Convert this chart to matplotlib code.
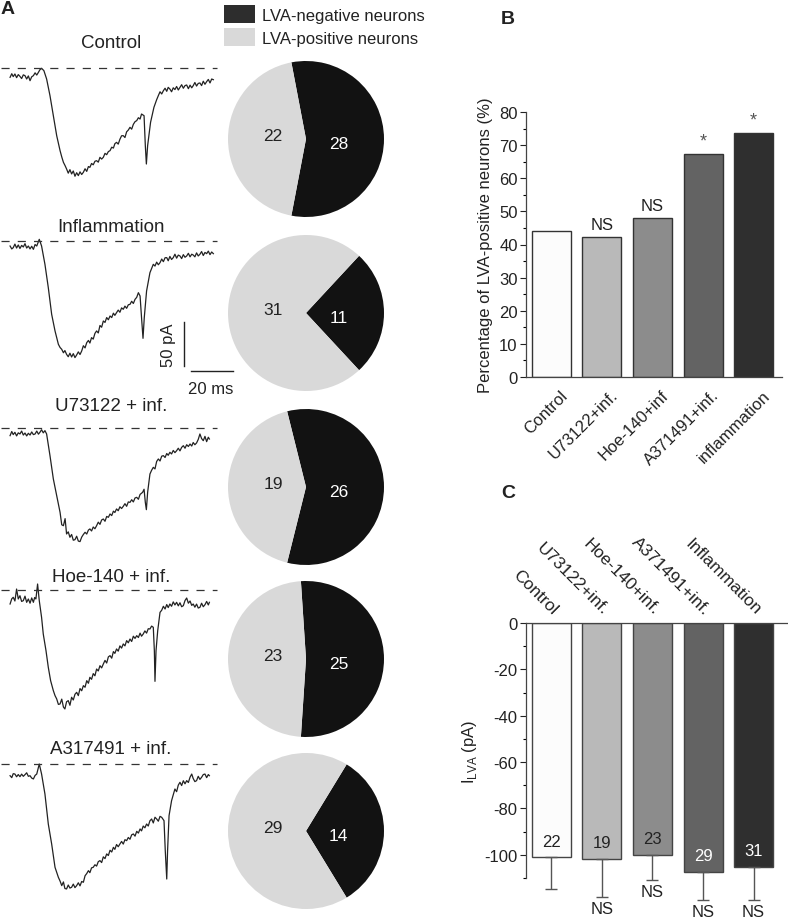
import matplotlib.pyplot as plt
import numpy as np
from matplotlib.patches import Patch
from matplotlib.ticker import MultipleLocator

plt.rcParams['font.family'] = ['Liberation Sans', 'DejaVu Sans']
plt.rcParams['axes.unicode_minus'] = False

# ---- panel A: counts of LVA-positive / LVA-negative neurons
pie_groups = ['Control', 'Inflammation', 'U73122 + inf.', 'Hoe-140 + inf.', 'A317491 + inf.']
lva_pos = [22, 31, 19, 23, 29]
lva_neg = [28, 11, 26, 25, 14]

# example traces as (time ms, current pA)
ctrl_trace = [(4.8, -10.6), (5.6, -6.5), (6.3, -9.8), (7.1, -6.8), (7.9, -11.0), (8.7, -7.5), (9.5, -9.5),
              (10.3, -12.0), (11.1, -7.8), (11.9, -8.7), (12.7, -12.5), (13.5, -9.0), (14.3, -14.4),
              (15.1, -10.0), (15.9, -8.7), (16.7, -5.5), (17.5, -8.0), (18.3, -4.9), (19.0, -2.0),
              (19.8, -0.4), (20.9, -3.0), (22.2, -12.5), (23.8, -31.4), (25.4, -54.2), (27.0, -76.9),
              (28.6, -93.9), (29.4, -101.0), (30.2, -107.2), (31.0, -111.0), (31.7, -114.7), (32.5, -119.5),
              (33.3, -115.5), (34.1, -120.4), (34.9, -117.0), (35.7, -123.0), (36.5, -119.0), (37.3, -122.3),
              (38.1, -118.0), (38.9, -121.0), (39.7, -118.5), (40.5, -114.5), (41.3, -117.5), (42.1, -112.0),
              (42.8, -112.9), (43.6, -108.5), (44.4, -110.0), (45.2, -106.0), (46.0, -105.3), (46.8, -107.0),
              (47.6, -101.5), (48.4, -103.5), (49.2, -101.5), (50.0, -97.0), (50.8, -98.5), (51.6, -95.0),
              (52.4, -93.9), (53.2, -90.0), (54.0, -91.0), (54.7, -86.0), (55.5, -84.5), (56.3, -86.5),
              (57.1, -81.0), (57.9, -77.0), (58.7, -76.9), (59.5, -79.0), (60.3, -72.5), (61.1, -70.5),
              (61.9, -67.4), (62.7, -69.5), (63.5, -64.0), (64.3, -61.0), (65.1, -59.8), (65.9, -56.5),
              (66.7, -58.0), (67.4, -52.3), (68.6, -54.2), (69.2, -88.2), (69.7, -109.1), (70.3, -88.2),
              (71.7, -61.7), (73.3, -44.7), (74.6, -36.0), (75.4, -31.4), (76.2, -27.0), (77.0, -29.5),
              (77.8, -25.8), (78.6, -23.0), (79.4, -26.5), (80.1, -22.0), (80.9, -23.9), (81.7, -27.0),
              (82.5, -22.5), (83.3, -24.5), (84.1, -21.0), (84.9, -25.0), (85.7, -22.0), (86.5, -19.0),
              (87.3, -23.0), (88.1, -20.0), (88.9, -19.3), (89.7, -23.5), (90.5, -19.5), (91.3, -22.5),
              (92.0, -20.1), (92.8, -16.5), (93.6, -20.5), (94.4, -17.5), (95.2, -17.0), (96.0, -20.0),
              (96.8, -15.0), (97.6, -18.5), (98.4, -15.5), (99.2, -13.0), (100.0, -17.0), (100.8, -12.5),
              (101.6, -13.3)]

infl_trace = [(4.8, -5.7), (5.6, -9.0), (6.3, -7.6), (7.1, -3.5), (7.9, -8.0), (8.7, -4.5), (9.5, -8.5),
              (10.3, -5.0), (11.1, -6.8), (11.9, -3.0), (12.7, -8.0), (13.5, -5.7), (14.3, -9.0), (15.1, -6.0),
              (15.9, -9.5), (16.7, -4.0), (17.5, -5.7), (18.7, 1.9), (19.8, -5.7), (21.4, -26.5), (23.0, -53.0),
              (24.6, -83.3), (26.2, -102.2), (27.8, -117.4), (28.6, -121.0), (29.4, -123.1), (30.2, -127.0),
              (30.9, -124.5), (31.7, -128.8), (32.5, -131.5), (33.3, -127.5), (34.1, -131.8), (34.9, -128.0),
              (35.7, -132.5), (36.5, -129.5), (37.3, -126.0), (38.1, -129.0), (38.9, -125.0), (39.7, -119.0),
              (40.5, -121.5), (41.3, -115.5), (42.1, -113.0), (42.8, -116.0), (43.6, -109.8), (44.4, -111.5),
              (45.2, -105.0), (46.0, -102.2), (46.8, -104.5), (47.6, -96.0), (48.4, -98.0), (49.2, -90.9),
              (50.0, -92.5), (50.8, -87.0), (51.6, -89.5), (52.4, -85.2), (53.2, -87.0), (54.0, -82.0),
              (54.7, -84.5), (55.5, -81.4), (56.3, -78.5), (57.1, -81.0), (57.9, -76.0), (58.7, -77.6),
              (59.5, -74.0), (60.3, -76.5), (61.1, -72.5), (61.9, -72.0), (62.7, -68.5), (63.5, -71.0),
              (64.3, -66.3), (65.1, -64.0), (65.9, -58.7), (66.7, -62.5), (67.4, -87.1), (68.1, -110.6),
              (68.7, -87.1), (69.8, -56.8), (71.4, -36.0), (73.0, -26.5), (73.8, -28.5), (74.6, -24.0),
              (75.4, -27.0), (76.2, -24.6), (77.0, -20.5), (77.8, -23.5), (78.6, -19.0), (79.4, -18.9),
              (80.1, -22.5), (80.9, -17.5), (81.7, -21.0), (82.5, -18.9), (83.3, -15.0), (84.1, -19.5),
              (84.9, -16.0), (85.7, -17.0), (86.5, -20.0), (87.3, -15.5), (88.1, -18.5), (88.9, -17.0),
              (89.7, -14.0), (90.5, -18.0), (91.3, -15.0), (92.0, -15.9), (92.8, -18.0), (93.6, -13.5),
              (94.4, -17.0), (95.2, -15.1), (96.0, -12.0), (96.8, -16.5), (97.6, -13.0), (98.4, -14.4),
              (99.2, -11.5), (100.0, -15.5), (100.8, -12.5), (101.6, -14.4)]

u73_trace = [(4.8, -8.7), (5.6, -4.0), (6.3, -7.5), (7.1, -4.9), (7.9, -9.0), (8.7, -5.5), (9.5, -6.8),
             (10.3, -3.5), (11.1, -8.0), (11.9, -5.7), (12.7, -9.0), (13.5, -6.0), (14.3, -8.0), (15.1, -4.5),
             (15.9, -7.5), (16.7, -6.8), (17.5, -3.5), (18.3, -7.0), (19.0, -4.9), (19.8, -2.0), (20.6, -5.5),
             (21.4, -3.0), (22.2, -6.8), (23.8, -31.4), (25.4, -57.9), (27.0, -76.9), (28.6, -95.8),
             (29.4, -110.0), (30.2, -111.0), (31.0, -103.0), (31.7, -120.4), (32.5, -118.0), (33.3, -124.2),
             (34.1, -121.0), (34.9, -127.5), (35.7, -126.9), (36.5, -123.0), (37.3, -128.5), (38.1, -129.1),
             (38.9, -124.0), (39.7, -121.0), (40.5, -118.5), (41.3, -120.5), (42.1, -116.0), (42.8, -114.7),
             (43.6, -117.0), (44.4, -112.5), (45.2, -114.5), (46.0, -111.0), (46.8, -107.0), (47.6, -109.5),
             (48.4, -104.5), (49.2, -103.4), (50.0, -106.0), (50.8, -100.5), (51.6, -101.5), (52.4, -97.7),
             (53.2, -99.5), (54.0, -94.5), (54.7, -96.0), (55.5, -92.0), (56.3, -94.0), (57.1, -89.5),
             (57.9, -91.5), (58.7, -89.0), (59.5, -86.0), (60.3, -89.0), (61.1, -84.0), (61.9, -84.5),
             (62.7, -81.5), (63.5, -84.0), (64.3, -79.5), (65.1, -78.8), (65.9, -81.0), (66.7, -75.5),
             (67.9, -73.1), (68.6, -69.6), (69.2, -84.5), (69.7, -92.8), (70.3, -73.1), (71.4, -52.3),
             (72.2, -48.0), (73.0, -44.7), (73.8, -46.5), (74.6, -38.0), (75.4, -35.2), (76.2, -37.5),
             (77.0, -32.0), (77.8, -31.4), (78.6, -33.5), (79.4, -29.0), (80.1, -31.0), (80.9, -27.6),
             (81.7, -29.5), (82.5, -25.5), (83.3, -28.0), (84.1, -25.8), (84.9, -23.0), (85.7, -26.0),
             (86.5, -22.0), (87.3, -20.1), (88.1, -23.0), (88.9, -19.0), (89.7, -21.0), (90.5, -18.2),
             (91.3, -20.5), (92.0, -16.5), (92.8, -19.0), (93.6, -17.0), (94.4, -13.0), (95.2, -6.8),
             (96.0, -12.0), (96.8, -14.4), (97.6, -9.5), (98.4, -15.5), (99.2, -10.5), (99.7, -12.5)]

hoe_trace = [(4.8, -15.9), (5.6, -10.0), (6.3, -8.3), (7.1, -12.5), (7.9, 1.1), (8.7, -10.2), (9.5, -6.5),
             (10.3, -13.0), (11.1, -12.1), (11.9, -7.0), (12.7, -14.0), (13.5, -10.2), (14.3, -15.0),
             (15.1, -9.0), (15.9, -14.0), (16.5, -8.5), (17.1, -10.2), (17.9, 6.8), (18.7, -12.1),
             (19.8, -31.1), (20.6, -50.0), (21.9, -68.9), (23.0, -87.9), (24.1, -103.0), (25.4, -114.4),
             (26.2, -120.0), (27.0, -123.8), (27.8, -130.0), (28.6, -129.5), (29.4, -124.0), (30.2, -133.0),
             (30.9, -135.2), (31.7, -127.0), (32.5, -125.7), (33.3, -131.0), (34.1, -121.9), (34.9, -125.0),
             (35.7, -118.5), (36.5, -116.3), (37.3, -120.0), (38.1, -112.0), (38.9, -114.5), (39.7, -108.7),
             (40.5, -110.5), (41.3, -103.0), (42.1, -106.0), (42.8, -99.2), (43.6, -101.5), (44.4, -95.0),
             (45.2, -97.5), (46.0, -89.8), (46.8, -92.0), (47.6, -86.0), (48.4, -88.5), (49.2, -84.1),
             (50.0, -80.0), (50.8, -83.0), (51.6, -76.0), (52.4, -74.6), (53.2, -77.5), (54.0, -70.0),
             (54.7, -72.0), (55.5, -67.0), (56.3, -69.5), (57.1, -63.5), (57.9, -66.0), (58.7, -61.3),
             (59.5, -63.5), (60.3, -57.5), (61.1, -60.0), (61.9, -55.7), (62.7, -58.5), (63.5, -52.5),
             (64.3, -55.0), (65.1, -51.9), (65.9, -54.0), (66.7, -49.0), (67.4, -52.5), (68.2, -50.0),
             (69.0, -46.5), (69.8, -49.0), (70.6, -44.0), (71.4, -44.3), (72.2, -41.0), (73.0, -42.4),
             (73.5, -68.9), (73.8, -103.8), (74.3, -68.9), (75.1, -46.2), (76.2, -25.4), (77.0, -23.0),
             (77.8, -18.5), (78.6, -21.6), (79.4, -16.5), (80.1, -20.0), (80.9, -15.9), (81.7, -18.5),
             (82.5, -13.5), (83.3, -17.0), (84.1, -14.0), (84.9, -18.0), (85.7, -14.5), (86.5, -19.0),
             (87.3, -17.8), (88.1, -12.0), (88.9, -9.1), (89.7, -15.0), (90.5, -12.5), (91.3, -17.5),
             (92.0, -15.9), (92.8, -19.5), (93.6, -16.0), (94.4, -20.5), (95.2, -19.7), (96.0, -15.0),
             (96.8, -19.0), (97.6, -16.7), (98.4, -13.0), (99.2, -17.0), (99.7, -14.0)]

a317_trace = [(4.8, -13.3), (5.6, -15.5), (6.3, -11.0), (7.1, -11.4), (7.9, -14.5), (8.7, -12.0), (9.5, -14.4),
              (10.3, -11.5), (11.1, -14.0), (11.9, -12.1), (12.7, -10.0), (13.5, -14.0), (14.3, -13.3),
              (15.1, -16.0), (15.9, -17.0), (16.7, -13.0), (17.5, -11.4), (18.7, 0.0), (19.8, -11.4),
              (21.4, -34.1), (23.0, -68.2), (24.6, -90.9), (26.2, -117.4), (27.8, -128.8), (28.6, -133.0),
              (29.4, -138.2), (30.2, -134.0), (30.9, -141.5), (31.7, -142.0), (32.5, -137.5), (33.3, -141.0),
              (34.1, -140.1), (34.9, -136.5), (35.7, -140.5), (36.5, -138.2), (37.3, -135.0), (38.1, -138.5),
              (38.9, -133.5), (39.7, -134.4), (40.5, -127.0), (41.3, -124.5), (42.1, -121.2), (42.8, -123.5),
              (43.6, -118.0), (44.4, -117.4), (45.2, -114.5), (46.0, -116.0), (46.8, -111.0), (47.6, -109.8),
              (48.4, -112.0), (49.2, -105.5), (50.0, -107.5), (50.8, -102.2), (51.6, -104.0), (52.4, -98.0),
              (53.2, -100.0), (54.0, -94.7), (54.7, -97.0), (55.5, -91.5), (56.3, -94.0), (57.1, -90.9),
              (57.9, -88.0), (58.7, -91.0), (59.5, -86.0), (60.3, -87.1), (61.1, -83.5), (61.9, -85.5),
              (62.7, -80.5), (63.5, -79.5), (64.3, -82.0), (65.1, -76.5), (65.9, -78.5), (66.7, -73.8),
              (67.4, -76.0), (68.2, -70.5), (69.0, -72.5), (69.8, -68.2), (70.6, -70.5), (71.4, -64.5),
              (72.2, -62.5), (73.0, -67.0), (73.8, -60.5), (74.6, -62.5), (75.4, -65.0), (76.2, -59.5),
              (77.0, -60.6), (78.1, -64.4), (78.7, -98.5), (79.4, -130.7), (79.8, -98.5), (80.5, -58.7),
              (81.7, -41.7), (82.5, -35.0), (83.3, -28.4), (84.1, -31.5), (84.9, -24.0), (85.7, -20.8),
              (86.5, -24.5), (87.3, -19.0), (88.1, -22.5), (88.9, -18.9), (89.7, -21.0), (90.5, -15.0),
              (91.3, -11.4), (92.0, -16.5), (92.8, -20.0), (93.6, -18.9), (94.4, -14.0), (95.2, -17.5),
              (96.0, -15.1), (96.8, -12.0), (97.6, -11.4), (98.4, -15.5), (99.2, -12.0), (99.7, -13.3)]

traces = [ctrl_trace, infl_trace, u73_trace, hoe_trace, a317_trace]

# ---- panel B
b_groups = ['Control', 'U73122+inf.', 'Hoe-140+inf', 'A371491+inf.', 'inflammation']
b_percent = [44.0, 42.2, 47.9, 67.4, 73.8]
b_marks = ['', 'NS', 'NS', '*', '*']

# ---- panel C
c_groups = ['Control', 'U73122+inf.', 'Hoe-140+inf.', 'A371491+inf.', 'Inflammation']
c_current = [-101.1, -101.6, -100.1, -107.4, -105.1]
c_sem = [13.8, 16.6, 10.9, 12.2, 14.4]
c_n = [22, 19, 23, 29, 31]
c_marks = ['', 'NS', 'NS', 'NS', 'NS']

bar_colors = ['#fcfcfc', '#b9b9b9', '#8c8c8c', '#636363', '#2f2f2f']
n_colors = ['#222222', '#222222', '#222222', 'white', 'white']
txt = '#222222'

W, H = 788, 920
fig = plt.figure(figsize=(W / 100, H / 100), dpi=100)

MS_PX = 20 / 42   # ms per pixel
PA_PX = 50 / 44   # pA per pixel

trace_base = [69, 242, 429, 591, 765]
title_y = [44, 228, 407, 578, 750]
pie_y = [140, 314, 488, 660, 832]

for k in range(5):
    b = trace_base[k]
    ax = fig.add_axes([0, 1 - (b + 135) / H, 220 / W, 150 / H])
    ax.set_xlim(0, 220 * MS_PX)
    ax.set_ylim(-135 * PA_PX, 15 * PA_PX)
    ax.axis('off')
    t, i = zip(*traces[k])
    ax.plot(t, i, color='#222222', lw=0.9)
    ax.plot([0.5, 103.5], [0, 0], color='#333333', lw=0.9, dashes=(6.5, 6.5))
    fig.text(111 / W, 1 - title_y[k] / H, pie_groups[k], ha='center', va='center',
             fontsize=13.5, color=txt)
    if k == 1:
        # scale bars
        ax.plot([184 * MS_PX] * 2, [-81 * PA_PX, -81 * PA_PX - 50], color='#222222', lw=1,
                clip_on=False)
        ax.plot([191 * MS_PX, 191 * MS_PX + 20], [-130 * PA_PX] * 2, color='#222222', lw=1,
                clip_on=False)
        ax.text(168 * MS_PX, -103 * PA_PX, '50 pA', rotation=90, ha='center', va='center',
                fontsize=12, color=txt)
        ax.text(211 * MS_PX, -148 * PA_PX, '20 ms', ha='center', va='center', fontsize=12,
                color=txt)

    # pie
    pa = fig.add_axes([(306 - 80) / W, 1 - (pie_y[k] + 80) / H, 160 / W, 160 / H])
    neg, pos = lva_neg[k], lva_pos[k]
    start = -180 * neg / (neg + pos)
    pa.pie([neg, pos], colors=['#121212', '#d9d9d9'], startangle=start, radius=1,
           wedgeprops=dict(linewidth=0))
    pa.set_xlim(-80 / 78, 80 / 78)
    pa.set_ylim(-80 / 78, 80 / 78)
    pa.set_aspect('equal')
    pa.text(0.42, -0.06, str(neg), ha='center', va='center', fontsize=12.5, color='white')
    pa.text(-0.42, 0.05, str(pos), ha='center', va='center', fontsize=12.5, color=txt)

handles = [Patch(facecolor='#2d2d2d', edgecolor='none'), Patch(facecolor='#d9d9d9', edgecolor='none')]
fig.legend(handles, ['LVA-negative neurons', 'LVA-positive neurons'], loc='upper left',
           bbox_to_anchor=(224 / W, 1 - 6 / H), frameon=False, fontsize=12, handlelength=1.86,
           handleheight=1.3, labelspacing=0.3, handletextpad=0.4, borderpad=0, borderaxespad=0,
           labelcolor=txt)

# ---- panel B
x = np.arange(5)
axb = fig.add_axes([526 / W, 1 - 378 / H, 256 / W, 265 / H])
axb.bar(x, b_percent, width=0.77, color=bar_colors, edgecolor='#333333', linewidth=1)
axb.set_xlim(-0.5, 4.56)
axb.set_ylim(0, 80)
axb.yaxis.set_major_locator(MultipleLocator(10))
axb.yaxis.set_minor_locator(MultipleLocator(5))
axb.tick_params(axis='y', direction='out', length=4, width=0.8, labelsize=12, colors=txt, pad=2)
axb.tick_params(axis='y', which='minor', length=2, width=0.8)
axb.set_xticks([])
for s in ['top', 'right']:
    axb.spines[s].set_visible(False)
for s in ['left', 'bottom']:
    axb.spines[s].set_color('#444444')
    axb.spines[s].set_linewidth(0.9)
axb.set_ylabel('Percentage of LVA-positive neurons (%)', fontsize=12, color=txt, labelpad=4)
for xi, lab in zip(x, b_groups):
    axb.text(xi + 0.17, -3, lab, rotation=45, ha='right', va='top', rotation_mode='anchor',
             fontsize=12, color=txt)
for xi, v, m in zip(x, b_percent, b_marks):
    if m == 'NS':
        axb.text(xi, v + 1.5, m, ha='center', va='bottom', fontsize=12, color=txt)
    elif m:
        axb.text(xi, v + 1.2, m, ha='center', va='bottom', fontsize=13, color='#555555')

# ---- panel C
axc = fig.add_axes([526 / W, 1 - 879 / H, 262 / W, 255 / H])
axc.bar(x, c_current, width=0.77, color=bar_colors, edgecolor='#444444', linewidth=1)
axc.errorbar(x, c_current, yerr=[c_sem, [0] * 5], fmt='none', ecolor='#555555', elinewidth=1,
             capsize=4, capthick=1, clip_on=False)
axc.set_xlim(-0.5, 4.68)
axc.set_ylim(-110, 0)
axc.yaxis.set_major_locator(MultipleLocator(20))
axc.yaxis.set_minor_locator(MultipleLocator(10))
axc.tick_params(axis='y', direction='out', length=4, width=0.8, labelsize=12, colors=txt, pad=2)
axc.tick_params(axis='y', which='minor', length=2, width=0.8)
axc.set_xticks([])
for s in ['bottom', 'right']:
    axc.spines[s].set_visible(False)
for s in ['left', 'top']:
    axc.spines[s].set_color('#444444')
    axc.spines[s].set_linewidth(0.9)
axc.set_ylabel(r'I$_{\mathregular{LVA}}$ (pA)', fontsize=12, color=txt, labelpad=4)
for xi, lab in zip(x, c_groups):
    axc.text(xi + 0.02, 3.5, lab, rotation=-45, ha='right', va='baseline', rotation_mode='anchor',
             fontsize=12.5, color=txt)
for xi, v, e, n, nc, m in zip(x, c_current, c_sem, c_n, n_colors, c_marks):
    axc.text(xi, v + 7, str(n), ha='center', va='center', fontsize=12, color=nc)
    if m:
        axc.text(xi, v - e - 5, m, ha='center', va='center', fontsize=12, color=txt,
                 clip_on=False)

fig.text(8 / W, 1 - 10 / H, 'A', fontsize=14, fontweight='bold', ha='center', va='center', color=txt)
fig.text(508 / W, 1 - 20 / H, 'B', fontsize=14, fontweight='bold', ha='center', va='center', color=txt)
fig.text(508 / W, 1 - 494 / H, 'C', fontsize=14, fontweight='bold', ha='center', va='center', color=txt)

fig.savefig('out.png', dpi=100)
